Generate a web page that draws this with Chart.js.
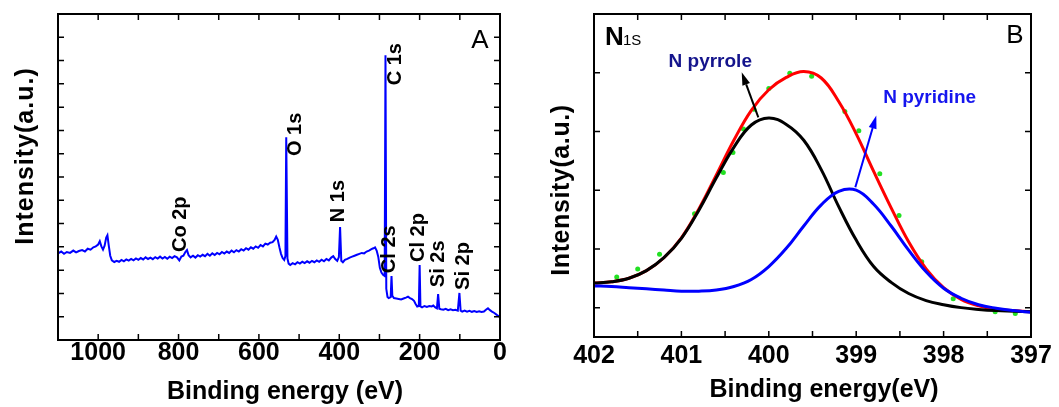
<!DOCTYPE html>
<html>
<head>
<meta charset="utf-8">
<script src="https://cdn.jsdelivr.net/npm/chart.js@4.4.1/dist/chart.umd.min.js"></script>
<style>
  html, body { margin: 0; padding: 0; background: #fff; }
  #wrap { position: relative; width: 1059px; height: 407px; }
  #boxA { position: absolute; left: 0; top: 0; width: 530px; height: 407px; }
  #boxB { position: absolute; left: 530px; top: 0; width: 529px; height: 407px; }
</style>
</head>
<body>
<div id="wrap">
  <div id="boxA"><canvas id="chartA"></canvas></div>
  <div id="boxB"><canvas id="chartB"></canvas></div>
</div>
<script>
// --- PANEL A: XPS survey spectrum ---
const energyA = [
  1100, 1092, 1085, 1078, 1070, 1062, 1055, 1048, 1040, 1033,
  1026, 1019, 1012, 1006, 1000, 996, 992, 988, 984, 980,
  977, 974, 970, 966, 960, 954, 948, 942, 936, 930,
  924, 918, 912, 906, 900, 894, 888, 882, 876, 870,
  864, 858, 852, 846, 840, 834, 828, 822, 816, 810,
  804, 798, 793, 788, 783, 779, 775, 770, 764, 758,
  752, 746, 740, 734, 728, 722, 716, 710, 704, 698,
  692, 686, 680, 674, 668, 662, 656, 650, 644, 638,
  632, 626, 620, 614, 608, 602, 596, 590, 584, 578,
  572, 566, 561, 557, 553, 549, 545, 541, 537, 534,
  532, 529, 526, 522, 516, 510, 504, 498, 492, 486,
  480, 474, 468, 462, 456, 450, 444, 438, 432, 426,
  420, 415, 410, 405, 401, 398, 395, 391, 386, 380,
  374, 368, 362, 356, 350, 344, 338, 332, 326, 320,
  315, 311, 307, 303, 299, 295, 291, 287, 285, 283,
  280, 277, 272, 270, 268, 264, 258, 252, 246, 240,
  234, 229, 224, 219, 214, 210, 206, 202, 200, 198,
  194, 188, 182, 176, 170, 166, 161, 157, 154, 151,
  147, 141, 135, 129, 123, 117, 111, 105, 101, 98,
  94, 88, 82, 76, 70, 64, 58, 52, 46, 40,
  35, 30, 25, 20, 14, 8, 3, 0
];
const intensityA = [
  3.72, 3.80, 3.70, 3.78, 3.74, 3.84, 3.76, 3.82, 3.86, 3.80,
  3.92, 3.88, 3.98, 4.02, 4.10, 4.24, 4.02, 3.88, 4.05, 4.40,
  4.50, 4.10, 3.62, 3.42, 3.35, 3.40, 3.36, 3.44, 3.38, 3.46,
  3.41, 3.48, 3.42, 3.50, 3.44, 3.52, 3.46, 3.55, 3.48, 3.54,
  3.47, 3.56, 3.50, 3.58, 3.50, 3.57, 3.49, 3.58, 3.52, 3.60,
  3.55, 3.42, 3.58, 3.62, 3.78, 3.86, 3.64, 3.55, 3.62, 3.54,
  3.64, 3.58, 3.66, 3.60, 3.70, 3.62, 3.72, 3.65, 3.74, 3.68,
  3.78, 3.71, 3.80, 3.74, 3.84, 3.77, 3.86, 3.80, 3.90, 3.84,
  3.94, 3.88, 3.98, 3.92, 4.02, 3.96, 4.08, 4.02, 4.14, 4.10,
  4.18, 4.20, 4.30, 4.44, 4.30, 3.98, 3.70, 3.52, 3.44, 3.60,
  8.71, 3.50, 3.28, 3.22, 3.30, 3.25, 3.34, 3.28, 3.36, 3.30,
  3.38, 3.32, 3.40, 3.34, 3.42, 3.36, 3.45, 3.38, 3.48, 3.42,
  3.54, 3.60, 3.48, 3.40, 3.56, 4.85, 3.40, 3.34, 3.44, 3.48,
  3.54, 3.58, 3.62, 3.66, 3.70, 3.74, 3.72, 3.80, 3.84, 3.90,
  3.94, 3.98, 3.84, 3.58, 3.10, 2.90, 2.80, 2.75, 12.23, 2.20,
  1.85, 1.80, 1.84, 2.75, 1.90, 1.80, 1.78, 1.76, 1.74, 1.78,
  1.82, 1.86, 1.80, 1.76, 1.68, 1.55, 1.44, 1.46, 3.22, 1.44,
  1.40, 1.46, 1.42, 1.46, 1.44, 1.48, 1.40, 1.36, 1.97, 1.34,
  1.32, 1.30, 1.34, 1.28, 1.32, 1.28, 1.30, 1.26, 2.02, 1.26,
  1.22, 1.26, 1.22, 1.25, 1.21, 1.24, 1.20, 1.23, 1.20, 1.22,
  1.30, 1.36, 1.28, 1.22, 1.16, 1.08, 1.02, 0.98
];
const yTicksA = [0, 1, 2, 3, 4, 5, 6, 7, 8, 9, 10, 11, 12, 13, 14];
const peakNames = ['Co 2p', 'O 1s', 'N 1s', 'C 1s', 'Cl 2s', 'Cl 2p', 'Si 2s', 'Si 2p'];
const peakLabelE = [794, 510, 403, 261, 274, 204, 152, 92];
const peakLabelV = [3.78, 7.90, 5.06, 10.94, 2.87, 3.35, 2.27, 2.15];

// --- PANEL B: N 1s high resolution fit ---
const energyB = [
  402, 401.8, 401.6, 401.4, 401.2, 401, 400.8, 400.6, 400.4, 400.2,
  400, 399.8, 399.6, 399.4, 399.2, 399, 398.8, 398.6, 398.4, 398.2,
  398, 397.8, 397.6, 397.4, 397.2, 397
];
const pyrroleB = [
  0.42, 0.44, 0.50, 0.63, 0.85, 1.18, 1.66, 2.21, 2.73, 3.11,
  3.23, 3.12, 2.85, 2.35, 1.72, 1.15, 0.70, 0.43, 0.24, 0.12,
  0.05, 0.00, -0.03, -0.05, -0.06, -0.07
];
const pyridineB = [
  0.37, 0.36, 0.34, 0.32, 0.30, 0.28, 0.28, 0.30, 0.36, 0.48,
  0.70, 1.01, 1.39, 1.75, 1.98, 2.00, 1.76, 1.39, 0.98, 0.61,
  0.33, 0.16, 0.05, -0.01, -0.05, -0.08
];
const envelopeB = [
  0.42, 0.44, 0.50, 0.63, 0.85, 1.19, 1.68, 2.26, 2.85, 3.36,
  3.71, 3.92, 4.02, 3.91, 3.51, 2.96, 2.32, 1.70, 1.12, 0.66,
  0.34, 0.14, 0.03, -0.03, -0.05, -0.07
];
const measuredE = [
  401.74, 401.50, 401.25, 400.85, 400.52, 400.41, 400.29, 400.17, 400.00, 399.76,
  399.51, 399.13, 398.97, 398.73, 398.51, 398.25, 397.89, 397.41, 397.18
];
const measuredI = [
  0.52, 0.66, 0.91, 1.60, 2.30, 2.64, 3.04, 3.38, 3.73, 3.99,
  3.94, 3.34, 3.01, 2.28, 1.57, 0.78, 0.15, -0.07, -0.10
];
const yTicksB = [0, 1, 2, 3, 4];

Chart.defaults.font.family = '"Liberation Sans", Arial, sans-serif';
Chart.defaults.color = '#000';

const pts = (xs, ys) => xs.map((v, i) => ({ x: v, y: ys[i] }));

// inward tick marks on all four sides + frame
const frameTicks = {
  id: 'frameTicks',
  afterDraw(chart) {
    const { ctx, chartArea: a, scales: { x, y } } = chart;
    ctx.save();
    ctx.strokeStyle = '#000';
    ctx.lineWidth = 1.5;
    ctx.beginPath();
    x.ticks.forEach(t => {
      const px = x.getPixelForValue(t.value);
      ctx.moveTo(px, a.bottom); ctx.lineTo(px, a.bottom - 6);
      ctx.moveTo(px, a.top); ctx.lineTo(px, a.top + 6);
    });
    y.ticks.forEach(t => {
      const py = y.getPixelForValue(t.value);
      ctx.moveTo(a.left, py); ctx.lineTo(a.left + 6, py);
      ctx.moveTo(a.right, py); ctx.lineTo(a.right - 6, py);
    });
    ctx.stroke();
    ctx.lineWidth = 2;
    ctx.strokeRect(a.left, a.top, a.right - a.left, a.bottom - a.top);
    ctx.restore();
  }
};

function notesPlugin(items, arrows) {
  return {
    id: 'notes',
    afterDraw(chart) {
      const { ctx, scales: { x, y } } = chart;
      ctx.save();
      arrows.forEach(ar => {
        const x0 = x.getPixelForValue(ar.from[0]), y0 = y.getPixelForValue(ar.from[1]);
        const x1 = x.getPixelForValue(ar.to[0]), y1 = y.getPixelForValue(ar.to[1]);
        const ang = Math.atan2(y1 - y0, x1 - x0);
        const head = 13, half = 4;
        const bx = x1 - head * Math.cos(ang), by = y1 - head * Math.sin(ang);
        ctx.strokeStyle = ar.color; ctx.fillStyle = ar.color; ctx.lineWidth = 2;
        ctx.beginPath(); ctx.moveTo(x0, y0); ctx.lineTo(bx, by); ctx.stroke();
        ctx.beginPath();
        ctx.moveTo(x1, y1);
        ctx.lineTo(bx + half * Math.sin(ang), by - half * Math.cos(ang));
        ctx.lineTo(bx - half * Math.sin(ang), by + half * Math.cos(ang));
        ctx.closePath(); ctx.fill();
      });
      items.forEach(it => {
        const px = it.e !== undefined ? x.getPixelForValue(it.e) : it.px;
        const py = it.v !== undefined ? y.getPixelForValue(it.v) : it.py;
        ctx.save();
        ctx.translate(px, py);
        if (it.rotate) ctx.rotate(-Math.PI / 2);
        ctx.font = it.font;
        ctx.letterSpacing = it.spacing || '0px';
        ctx.fillStyle = it.color || '#000';
        ctx.textAlign = it.align || 'center';
        ctx.textBaseline = it.baseline || 'alphabetic';
        ctx.fillText(it.text, 0, 0);
        ctx.restore();
      });
      ctx.restore();
    }
  };
}

function baseOptions(xMin, xMax, step, xPad, xHeight, yMin, yMax, yTicks, yWidth, pad) {
  return {
    responsive: true,
    maintainAspectRatio: false,
    animation: false,
    layout: { padding: pad },
    plugins: { legend: { display: false }, tooltip: { enabled: false } },
    scales: {
      x: {
        type: 'linear', min: xMin, max: xMax, reverse: true,
        grid: { display: false, drawTicks: false },
        border: { display: false },
        ticks: {
          stepSize: step, autoSkip: false, maxRotation: 0, padding: xPad, color: '#000',
          font: { size: 25, weight: 'bold', lineHeight: 1 },
          callback: v => (step === 100 ? (v % 200 === 0 ? v : '') : (Number.isInteger(v) ? v : ''))
        },
        afterFit: s => { s.height = xHeight; }
      },
      y: {
        type: 'linear', min: yMin, max: yMax,
        grid: { display: false, drawTicks: false },
        border: { display: false },
        ticks: { display: false },
        afterBuildTicks: s => { s.ticks = yTicks.map(v => ({ value: v })); },
        afterFit: s => { s.width = yWidth; }
      }
    }
  };
}

// --- Chart A ---
const itemsA = peakNames.map((n, i) => ({
  text: n, e: peakLabelE[i], v: peakLabelV[i], rotate: true,
  align: 'left', baseline: 'middle', font: 'bold 20px "Liberation Sans", Arial'
}));
itemsA.push({ text: 'A', px: 480, py: 48, font: '26px "Liberation Sans", Arial' });
itemsA.push({ text: 'Binding energy (eV)', px: 285, py: 392, baseline: 'middle', font: 'bold 25px "Liberation Sans", Arial' });
itemsA.push({ text: 'Intensity(a.u.)', px: 26, py: 156, rotate: true, baseline: 'middle', spacing: '1px', font: 'bold 25px "Liberation Sans", Arial' });

new Chart(document.getElementById('chartA'), {
  type: 'line',
  data: {
    datasets: [{
      data: pts(energyA, intensityA),
      borderColor: '#0000ff', borderWidth: 2, pointRadius: 0, tension: 0, fill: false
    }]
  },
  options: baseOptions(0, 1100, 100, 0.5, 67, 0, 14, yTicksA, 58, { left: 0, top: 14, right: 30, bottom: 0 }),
  plugins: [frameTicks, notesPlugin(itemsA, [])]
});

// --- Chart B ---
const itemsB = [
  { text: 'N', px: 75, py: 45, align: 'left', font: 'bold 26px "Liberation Sans", Arial' },
  { text: '1S', px: 93, py: 45, align: 'left', font: '15px "Liberation Sans", Arial' },
  { text: 'B', px: 485, py: 43, font: '26px "Liberation Sans", Arial' },
  { text: 'N pyrrole', e: 400.67, v: 4.09, color: '#14148c', font: 'bold 19px "Liberation Sans", Arial' },
  { text: 'N pyridine', e: 398.16, v: 3.48, color: '#1515ee', font: 'bold 19px "Liberation Sans", Arial' },
  { text: 'Binding energy(eV)', px: 294, py: 390, baseline: 'middle', font: 'bold 25px "Liberation Sans", Arial' },
  { text: 'Intensity(a.u.)', px: 32, py: 190, rotate: true, baseline: 'middle', spacing: '0.6px', font: 'bold 25px "Liberation Sans", Arial' }
];
const arrowsB = [
  { from: [400.12, 3.24], to: [400.31, 4.01], color: '#000' },
  { from: [399.01, 2.05], to: [398.77, 3.27], color: '#0000ff' }
];

const lineStyle = { borderWidth: 3, pointRadius: 0, tension: 0.4, fill: false };

new Chart(document.getElementById('chartB'), {
  type: 'line',
  data: {
    datasets: [
      Object.assign({ data: pts(energyB, pyridineB), borderColor: '#0000ff' }, lineStyle),
      Object.assign({ data: pts(energyB, pyrroleB), borderColor: '#000000' }, lineStyle),
      Object.assign({ data: pts(energyB, envelopeB), borderColor: '#ff0000' }, lineStyle),
      {
        data: pts(measuredE, measuredI), showLine: false,
        pointRadius: 2.5, pointBackgroundColor: '#22e022', pointBorderWidth: 0
      }
    ]
  },
  options: baseOptions(397, 402, 0.5, 7, 70, -0.5, 5, yTicksB, 64, { left: 0, top: 14, right: 28, bottom: 0 }),
  plugins: [frameTicks, notesPlugin(itemsB, arrowsB)]
});
</script>
</body>
</html>
